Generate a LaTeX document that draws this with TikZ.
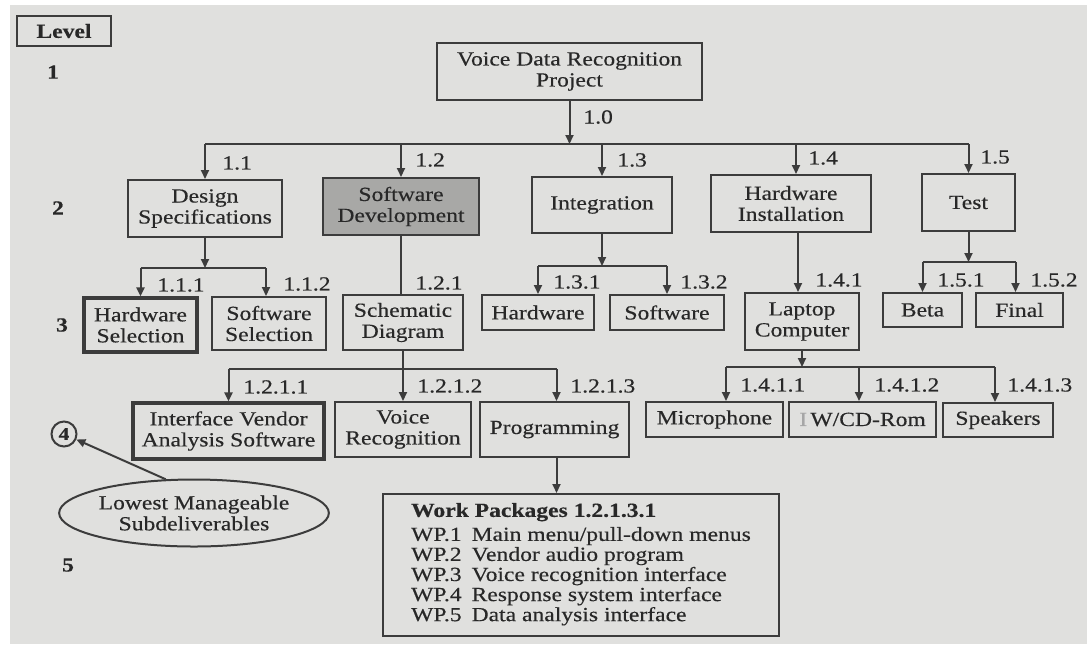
\documentclass[tikz,border=0pt]{standalone}
\usepackage{fontspec}
\setmainfont{Liberation Serif}[FakeStretch=1.18,FakeBold=0.35]
\usetikzlibrary{arrows.meta,shapes.geometric}
\definecolor{bgc}{RGB}{224,224,222}
\definecolor{lc}{RGB}{60,60,60}
\definecolor{tc}{RGB}{40,40,40}
\definecolor{sdfill}{RGB}{168,168,166}
\tikzset{
  every node/.style={font=\fontsize{10}{10.5}\selectfont, text=tc},
  box/.style={draw=lc, line width=1pt, align=center, inner sep=0pt},
  thickbox/.style={box, line width=1.6pt},
  lbl/.style={anchor=west, inner sep=0pt},
  lvl/.style={inner sep=0pt, font=\fontsize{10}{10.5}\selectfont\bfseries},
  conn/.style={draw=lc, line width=1pt},
  arr/.style={conn, -{Triangle[length=4.5pt,width=4pt]}}
}
\begin{document}
\begin{tikzpicture}[x=0.5pt,y=-0.5pt]
\useasboundingbox (0,0) rectangle (1087,644);
\fill[white] (0,0) rectangle (1087,644);
\fill[bgc] (10,5) rectangle (1087,644);

% level column
\node[box, line width=1.3pt, minimum width=47pt, minimum height=15pt, font=\fontsize{10}{10.5}\selectfont\bfseries] (level) at (64,31) {Level};
\node[lvl] (n1) at (53,72) {1};
\node[lvl] (n2) at (58,208) {2};
\node[lvl] (n3) at (62,325) {3};
\node[draw=lc, line width=1pt, circle, inner sep=0pt, minimum size=12.5pt, font=\fontsize{9}{10}\selectfont\bfseries] (c4) at (64,434) {4};
\node[lvl] (n5) at (68,565) {5};
\node[draw=lc, line width=1pt, ellipse, inner sep=0pt, minimum width=119pt, minimum height=33.5pt, align=center] (ell) at (194,513) {Lowest Manageable\\Subdeliverables};

% level 1
\node[box, minimum width=132.5pt, minimum height=28.5pt] (root) at (569.5,71.5) {Voice Data Recognition\\Project};

% level 2
\node[box, minimum width=77pt, minimum height=28.5pt] (ds) at (205,208.5) {Design\\Specifications};
\node[box, fill=sdfill, minimum width=78pt, minimum height=28.5pt] (sd) at (401,206.5) {Software\\Development};
\node[box, minimum width=70pt, minimum height=28pt] (integ) at (602,205) {Integration};
\node[box, minimum width=80pt, minimum height=28.5pt] (hwi) at (791,203.5) {Hardware\\Installation};
\node[box, minimum width=46.5pt, minimum height=28.5pt] (test) at (968.5,202.5) {Test};

% level 3
\node[thickbox, minimum width=56.5pt, minimum height=27pt] (hws) at (140.5,325) {Hardware\\Selection};
\node[box, minimum width=57pt, minimum height=26.5pt] (sws) at (269,323.5) {Software\\Selection};
\node[box, minimum width=60pt, minimum height=27.5pt] (sch) at (403,322.5) {Schematic\\Diagram};
\node[box, minimum width=56pt, minimum height=17.5pt] (hw) at (538,312.5) {Hardware};
\node[box, minimum width=57pt, minimum height=17.5pt] (sw) at (667,312.5) {Software};
\node[box, minimum width=57pt, minimum height=28.5pt] (lap) at (802,321.5) {Laptop\\Computer};
\node[box, minimum width=39.5pt, minimum height=17pt] (beta) at (922.5,310) {Beta};
\node[box, minimum width=43.5pt, minimum height=17pt] (final) at (1019.5,310) {Final};

% level 4
\node[thickbox, minimum width=95.5pt, minimum height=28pt] (ivas) at (228.5,431) {Interface Vendor\\Analysis Software};
\node[box, minimum width=68pt, minimum height=27.5pt] (vr) at (403,429.5) {Voice\\Recognition};
\node[box, minimum width=74.5pt, minimum height=27.5pt] (prog) at (554.5,429.5) {Programming};
\node[box, minimum width=68.5pt, minimum height=17.5pt] (mic) at (714.5,419.5) {Microphone};
\node[box, minimum width=73.5pt, minimum height=17.5pt] (cd) at (862.5,419.5) {{\color{gray!70}I}\,W/CD-Rom};
\node[box, minimum width=55pt, minimum height=17pt] (spk) at (998,420) {Speakers};

% level 5: work packages
\node[box, minimum width=198pt, minimum height=71pt, align=left, anchor=north west, inner xsep=10.5pt, inner ysep=3pt] (wp) at (382,493) {%
\fontsize{10}{10}\selectfont
\begin{tabular}{@{}l@{\hspace{5pt}}l@{}}
\multicolumn{2}{@{}l}{\bfseries Work Packages 1.2.1.3.1}\\[2pt]
WP.1 & Main menu/pull-down menus\\
WP.2 & Vendor audio program\\
WP.3 & Voice recognition interface\\
WP.4 & Response system interface\\
WP.5 & Data analysis interface
\end{tabular}};

% bars
\coordinate (b1) at (0,144);
\coordinate (b2) at (0,268);
\coordinate (b3) at (0,266);
\coordinate (b4) at (0,262);
\coordinate (b5) at (0,369);
\coordinate (b6) at (0,367);

% connectors level 1 -> 2
\draw[arr] (root.south) -- (root.south |- b1);
\draw[conn] (ds.north |- b1) -- (test.north |- b1);
\draw[arr] (ds.north |- b1) -- (ds.north);
\draw[arr] (sd.north |- b1) -- (sd.north);
\draw[arr] (integ.north |- b1) -- (integ.north);
\draw[arr] ([xshift=2.5pt]hwi.north |- b1) -- ([xshift=2.5pt]hwi.north);
\draw[arr] (test.north |- b1) -- (test.north);

% level 2 -> 3
\draw[arr] (ds.south) -- (ds.south |- b2);
\draw[conn] (hws.north |- b2) -- ([xshift=-1.5pt]sws.north |- b2);
\draw[arr] (hws.north |- b2) -- (hws.north);
\draw[arr] ([xshift=-1.5pt]sws.north |- b2) -- ([xshift=-1.5pt]sws.north);
\draw[conn] (sd.south) -- (sd.south |- sch.north);
\draw[arr] (integ.south) -- (integ.south |- b3);
\draw[conn] (hw.north |- b3) -- (sw.north |- b3);
\draw[arr] (hw.north |- b3) -- (hw.north);
\draw[arr] (sw.north |- b3) -- (sw.north);
\draw[arr] ([xshift=-2pt]lap.north |- hwi.south) -- ([xshift=-2pt]lap.north);
\draw[arr] (test.south) -- (test.south |- b4);
\draw[conn] (beta.north |- b4) -- ([xshift=-2pt]final.north |- b4);
\draw[arr] (beta.north |- b4) -- (beta.north);
\draw[arr] ([xshift=-2pt]final.north |- b4) -- ([xshift=-2pt]final.north);

% level 3 -> 4
\draw[arr] (sch.south) -- (vr.north);
\draw[conn] (ivas.north |- b5) -- ([xshift=1pt]prog.north |- b5);
\draw[arr] (ivas.north |- b5) -- (ivas.north);
\draw[arr] ([xshift=1pt]prog.north |- b5) -- ([xshift=1pt]prog.north);
\draw[arr] (lap.south) -- (lap.south |- b6);
\draw[conn] ([xshift=5.75pt]mic.north |- b6) -- ([xshift=-1.5pt]spk.north |- b6);
\draw[arr] ([xshift=5.75pt]mic.north |- b6) -- ([xshift=5.75pt]mic.north);
\draw[arr] ([xshift=-1.75pt]cd.north |- b6) -- ([xshift=-1.75pt]cd.north);
\draw[arr] ([xshift=-1.5pt]spk.north |- b6) -- ([xshift=-1.5pt]spk.north);

% level 4 -> 5
\draw[arr] ([xshift=1pt]prog.south) -- ([xshift=1pt]prog.south |- wp.north);

% note arrow
\draw[conn, -{Triangle[length=4.5pt,width=4pt]}] (ell.130) -- (c4);

% labels
\node[lbl] (l10) at (583,117) {1.0};
\node[lbl] (l11) at (222,163) {1.1};
\node[lbl] (l12) at (415,160) {1.2};
\node[lbl] (l13) at (617,160) {1.3};
\node[lbl] (l14) at (808,158) {1.4};
\node[lbl] (l15) at (980,157) {1.5};
\node[lbl] (l111) at (157,285) {1.1.1};
\node[lbl] (l112) at (283,284) {1.1.2};
\node[lbl] (l121) at (415,283) {1.2.1};
\node[lbl] (l131) at (553,282) {1.3.1};
\node[lbl] (l132) at (680,282) {1.3.2};
\node[lbl] (l141) at (815,280) {1.4.1};
\node[lbl] (l151) at (937,280) {1.5.1};
\node[lbl] (l152) at (1030,280) {1.5.2};
\node[lbl] (l1211) at (243,387) {1.2.1.1};
\node[lbl] (l1212) at (417,386) {1.2.1.2};
\node[lbl] (l1213) at (570,386) {1.2.1.3};
\node[lbl] (l1411) at (740,385) {1.4.1.1};
\node[lbl] (l1412) at (874,385) {1.4.1.2};
\node[lbl] (l1413) at (1007,385) {1.4.1.3};
\end{tikzpicture}
\end{document}
